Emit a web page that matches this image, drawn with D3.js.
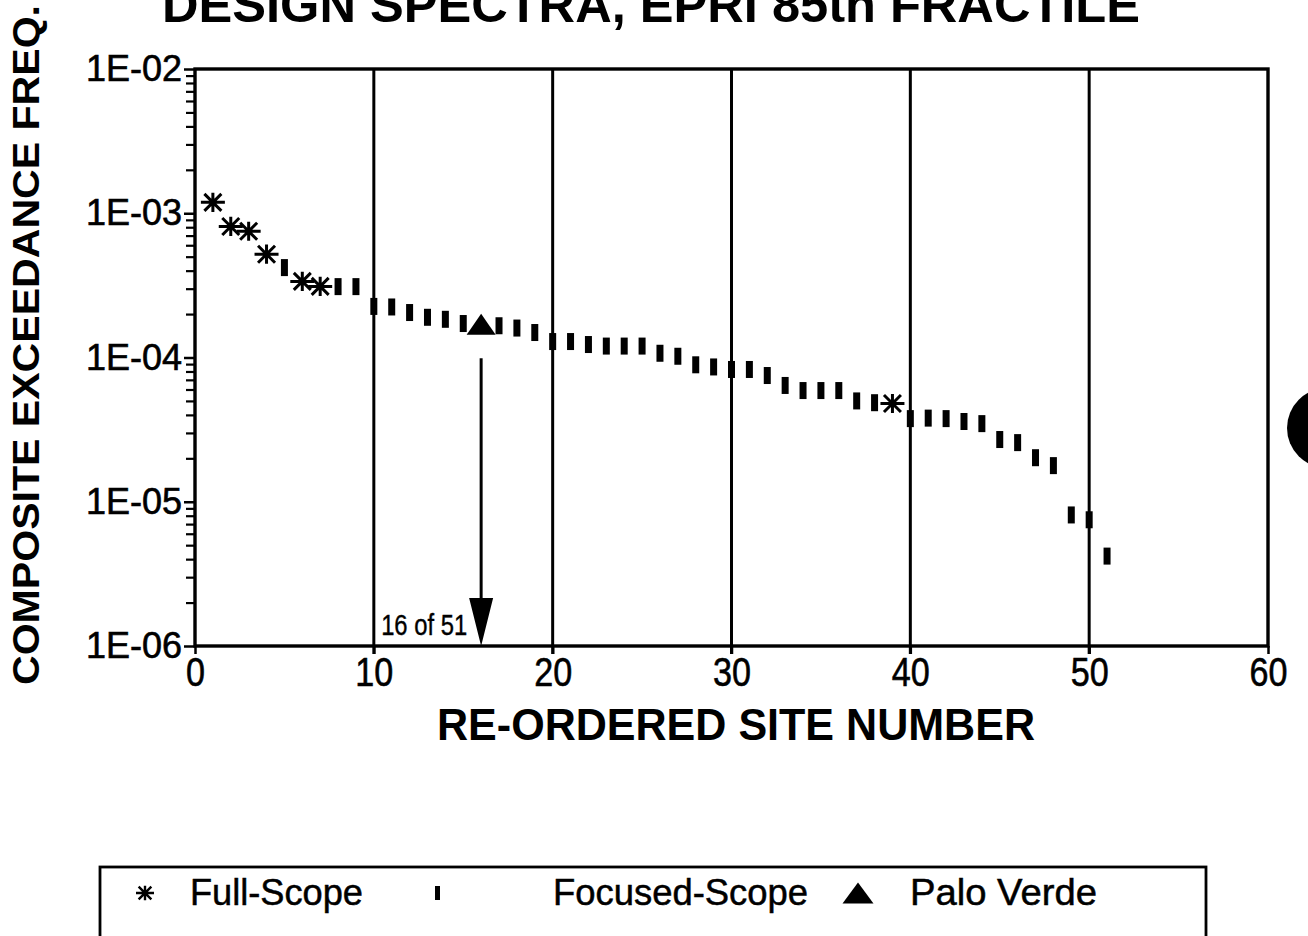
<!DOCTYPE html>
<html>
<head>
<meta charset="utf-8">
<script src="https://cdn.jsdelivr.net/npm/d3@7"></script>
<style>
  body { margin: 0; background: #fff; }
  svg { display: block; font-family: "Liberation Sans", Arial, Helvetica, sans-serif; }
</style>
</head>
<body>
<script>
// site numbers after re-ordering, and the composite exceedance frequency
var siteNumbers = [1, 2, 3, 4, 5, 6, 7, 8, 9, 10,
                   11, 12, 13, 14, 15, 16, 17, 18, 19, 20,
                   21, 22, 23, 24, 25, 26, 27, 28, 29, 30,
                   31, 32, 33, 34, 35, 36, 37, 38, 39, 40,
                   41, 42, 43, 44, 45, 46, 47, 48, 49, 50, 51];
var exceedFreq = [1.19e-3, 8.1e-4, 7.5e-4, 5.2e-4, 4.2e-4, 3.37e-4, 3.11e-4, 3.1e-4, 3.1e-4, 2.26e-4,
                  2.24e-4, 2.05e-4, 1.9e-4, 1.84e-4, 1.72e-4, 1.7e-4, 1.66e-4, 1.6e-4, 1.49e-4, 1.29e-4,
                  1.29e-4, 1.23e-4, 1.2e-4, 1.2e-4, 1.2e-4, 1.07e-4, 1.02e-4, 8.9e-5, 8.6e-5, 8.26e-5,
                  8.26e-5, 7.5e-5, 6.4e-5, 5.9e-5, 5.9e-5, 5.9e-5, 5.0e-5, 4.86e-5, 4.8e-5, 3.77e-5,
                  3.8e-5, 3.77e-5, 3.6e-5, 3.48e-5, 2.7e-5, 2.57e-5, 2.02e-5, 1.78e-5, 8.1e-6, 7.5e-6, 4.2e-6];
// F = full-scope, S = focused-scope, P = Palo Verde
var scopeType = ["F", "F", "F", "F", "S", "F", "F", "S", "S", "S",
                 "S", "S", "S", "S", "S", "P", "S", "S", "S", "S",
                 "S", "S", "S", "S", "S", "S", "S", "S", "S", "S",
                 "S", "S", "S", "S", "S", "S", "S", "S", "F", "S",
                 "S", "S", "S", "S", "S", "S", "S", "S", "S", "S", "S"];

var xTicks = [0, 10, 20, 30, 40, 50, 60];
var yTicks = [1e-6, 1e-5, 1e-4, 1e-3, 1e-2];
var yTickLabels = ["1E-06", "1E-05", "1E-04", "1E-03", "1E-02"];
var legendLabels = ["Full-Scope", "Focused-Scope", "Palo Verde"];
var highlightText = "16 of 51";

var width = 1308, height = 936;

var svg = d3.select("body").append("svg")
    .attr("width", width)
    .attr("height", height);

var x = d3.scaleLinear().domain([0, 60]).range([195, 1268]);
var y = d3.scaleLog().domain([1e-6, 1e-2]).range([646, 69]);

var points = siteNumbers.map(function(s, i) {
    return { site: s, freq: exceedFreq[i], type: scopeType[i] };
});

// title, cut off at the top of the page as in the scan
svg.append("text")
    .attr("x", 162)
    .attr("y", 22)
    .attr("font-size", 50)
    .attr("font-weight", "bold")
    .attr("textLength", 978)
    .attr("lengthAdjust", "spacingAndGlyphs")
    .text("DESIGN SPECTRA, EPRI 85th FRACTILE");

// vertical grid lines
svg.append("g").selectAll("line")
    .data([10, 20, 30, 40, 50])
    .enter().append("line")
    .attr("x1", function(d) { return x(d); })
    .attr("x2", function(d) { return x(d); })
    .attr("y1", y(1e-2))
    .attr("y2", y(1e-6) + 8)
    .attr("stroke", "#000")
    .attr("stroke-width", 3);

// frame
svg.append("rect")
    .attr("x", x(0))
    .attr("y", y(1e-2))
    .attr("width", x(60) - x(0))
    .attr("height", y(1e-6) - y(1e-2))
    .attr("fill", "none")
    .attr("stroke", "#000")
    .attr("stroke-width", 3.4);

// x axis
var xAxis = svg.append("g")
    .attr("transform", "translate(0," + y(1e-6) + ")")
    .call(d3.axisBottom(x).tickValues(xTicks).tickSize(8).tickPadding(4).tickFormat(d3.format("d")));
xAxis.select(".domain").remove();
xAxis.selectAll("line").attr("stroke-width", 2.5);
xAxis.selectAll("text")
    .attr("font-size", 40)
    .attr("font-family", "Liberation Sans, Arial, sans-serif")
    .attr("fill", "#000")
    .attr("stroke", "#000")
    .attr("stroke-width", 0.6)
    .attr("textLength", function(d) { return String(d).length * 19; })
    .attr("lengthAdjust", "spacingAndGlyphs");

// y axis, majors
var yAxis = svg.append("g")
    .attr("transform", "translate(" + x(0) + ",0)")
    .call(d3.axisLeft(y).tickValues(yTicks).tickSize(11).tickPadding(2)
        .tickFormat(function(d, i) { return yTickLabels[i]; }));
yAxis.select(".domain").remove();
yAxis.selectAll("line").attr("stroke-width", 2.5);
yAxis.selectAll("text")
    .attr("font-size", 36)
    .attr("font-family", "Liberation Sans, Arial, sans-serif")
    .attr("fill", "#000")
    .attr("stroke", "#000")
    .attr("stroke-width", 0.6);

// y axis, minor ticks
var minorTicks = [];
yTicks.slice(0, 4).forEach(function(t) {
    for (var k = 2; k <= 9; k++) minorTicks.push(t * k);
});
var yMinor = svg.append("g")
    .attr("transform", "translate(" + x(0) + ",0)")
    .call(d3.axisLeft(y).tickValues(minorTicks).tickSize(9).tickFormat(""));
yMinor.select(".domain").remove();
yMinor.selectAll("line").attr("stroke-width", 2.2);

// axis titles
svg.append("text")
    .attr("transform", "translate(39,345) rotate(-90)")
    .attr("text-anchor", "middle")
    .attr("font-size", 37)
    .attr("font-weight", "bold")
    .attr("textLength", 680)
    .attr("lengthAdjust", "spacingAndGlyphs")
    .text("COMPOSITE EXCEEDANCE FREQ.");

svg.append("text")
    .attr("x", 736)
    .attr("y", 740)
    .attr("text-anchor", "middle")
    .attr("font-size", 44)
    .attr("font-weight", "bold")
    .attr("textLength", 598)
    .attr("lengthAdjust", "spacingAndGlyphs")
    .text("RE-ORDERED SITE NUMBER");

// marker shapes
function starPath(r) {
    var d = r * Math.SQRT1_2;
    return "M" + (-r) + ",0L" + r + ",0M0," + (-r * 0.8) + "L0," + (r * 0.8) +
        "M" + (-d) + "," + (-d) + "L" + d + "," + d +
        "M" + (-d) + "," + d + "L" + d + "," + (-d);
}
function triPath(w, h) {
    return "M" + (-w / 2) + "," + (h / 2) + "L" + (w / 2) + "," + (h / 2) + "L0," + (-h / 2) + "Z";
}

var marks = svg.append("g");

marks.selectAll(".focused")
    .data(points.filter(function(d) { return d.type === "S"; }))
    .enter().append("rect")
    .attr("class", "focused")
    .attr("x", function(d) { return x(d.site) - 3.5; })
    .attr("y", function(d) { return y(d.freq) - 8.5; })
    .attr("width", 7)
    .attr("height", 17)
    .attr("fill", "#000");

marks.selectAll(".full")
    .data(points.filter(function(d) { return d.type === "F"; }))
    .enter().append("path")
    .attr("class", "full")
    .attr("transform", function(d) { return "translate(" + x(d.site) + "," + y(d.freq) + ")"; })
    .attr("d", starPath(12))
    .attr("stroke", "#000")
    .attr("stroke-width", 3)
    .attr("fill", "none");

var palo = points.filter(function(d) { return d.type === "P"; });
marks.selectAll(".palo")
    .data(palo)
    .enter().append("path")
    .attr("class", "palo")
    .attr("transform", function(d) { return "translate(" + x(d.site) + "," + y(d.freq) + ")"; })
    .attr("d", triPath(29, 21))
    .attr("fill", "#000");

// arrow from Palo Verde down to the axis
var pv = palo[0];
svg.append("line")
    .attr("x1", x(pv.site))
    .attr("x2", x(pv.site))
    .attr("y1", y(pv.freq) + 34)
    .attr("y2", y(1e-6) - 44)
    .attr("stroke", "#000")
    .attr("stroke-width", 3);
svg.append("path")
    .attr("d", "M" + (x(pv.site) - 12) + "," + (y(1e-6) - 48) +
        "L" + (x(pv.site) + 12) + "," + (y(1e-6) - 48) +
        "L" + x(pv.site) + "," + y(1e-6) + "Z")
    .attr("fill", "#000");
svg.append("text")
    .attr("x", x(pv.site) - 14)
    .attr("y", y(1e-6) - 11)
    .attr("text-anchor", "end")
    .attr("font-size", 29)
    .attr("stroke", "#000")
    .attr("stroke-width", 0.4)
    .attr("textLength", 86)
    .attr("lengthAdjust", "spacingAndGlyphs")
    .text(highlightText);

// legend box (bottom runs off the page)
var legend = svg.append("g");
legend.append("rect")
    .attr("x", 100)
    .attr("y", 867)
    .attr("width", 1106)
    .attr("height", 100)
    .attr("fill", "none")
    .attr("stroke", "#000")
    .attr("stroke-width", 2.8);

legend.append("path")
    .attr("transform", "translate(145,893)")
    .attr("d", starPath(9))
    .attr("stroke", "#000")
    .attr("stroke-width", 2.4)
    .attr("fill", "none");
legend.append("rect")
    .attr("x", 435)
    .attr("y", 886)
    .attr("width", 5)
    .attr("height", 14)
    .attr("fill", "#000");
legend.append("path")
    .attr("transform", "translate(858,893)")
    .attr("d", triPath(31, 21))
    .attr("fill", "#000");

var legendX = [190, 553, 910];
var legendW = [173, 255, 187];
legend.selectAll(".ltext")
    .data(legendLabels)
    .enter().append("text")
    .attr("class", "ltext")
    .attr("x", function(d, i) { return legendX[i]; })
    .attr("y", 905)
    .attr("font-size", 37)
    .attr("stroke", "#000")
    .attr("stroke-width", 0.5)
    .attr("textLength", function(d, i) { return legendW[i]; })
    .attr("lengthAdjust", "spacingAndGlyphs")
    .text(function(d) { return d; });

// binder hole on the right edge of the scan
svg.append("circle")
    .attr("cx", 1327)
    .attr("cy", 428)
    .attr("r", 40)
    .attr("fill", "#000");
</script>
</body>
</html>
